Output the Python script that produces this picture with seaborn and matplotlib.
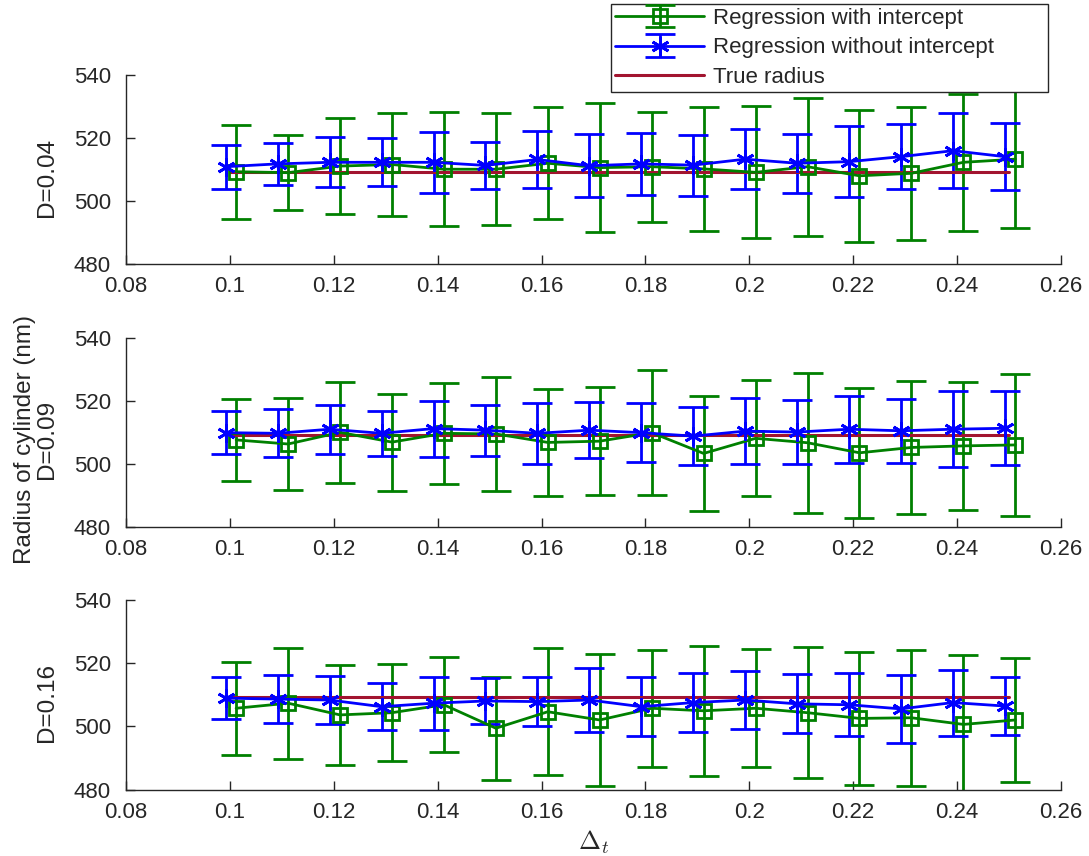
import numpy as np
import matplotlib
matplotlib.use('Agg')
import matplotlib.pyplot as plt
import seaborn as sns
from matplotlib.ticker import FuncFormatter

# time step values (x axis)
dt = [0.10, 0.11, 0.12, 0.13, 0.14, 0.15, 0.16, 0.17,
      0.18, 0.19, 0.20, 0.21, 0.22, 0.23, 0.24, 0.25]
true_radius = 509.3
d_labels = ['D=0.04', 'D=0.09', 'D=0.16']

# D=0.04
with_mean_004 = [509.3, 509.0, 511.1, 511.6, 510.1, 510.1, 512.0, 510.6,
                 510.9, 510.2, 509.1, 510.9, 508.0, 508.8, 512.3, 513.3]
with_err_004 = [14.9, 11.9, 15.4, 16.3, 18.2, 17.8, 17.8, 20.5,
                17.5, 19.8, 21.0, 22.0, 21.1, 21.1, 21.8, 21.8]
without_mean_004 = [510.9, 511.8, 512.3, 512.3, 512.3, 511.3, 513.2, 511.2,
                    511.8, 511.4, 513.3, 512.0, 512.5, 514.1, 516.0, 514.1]
without_err_004 = [7.0, 6.8, 8.0, 7.7, 9.8, 7.4, 9.2, 10.0,
                   9.9, 9.7, 9.5, 9.4, 11.4, 10.4, 11.9, 10.7]

# D=0.09
with_mean_009 = [507.6, 506.3, 510.0, 506.9, 509.7, 509.5, 506.8, 507.2,
                 509.9, 503.3, 508.1, 506.7, 503.5, 505.2, 505.7, 506.0]
with_err_009 = [13.0, 14.6, 16.0, 15.4, 16.0, 18.0, 17.0, 17.1,
                19.8, 18.2, 18.4, 22.2, 20.6, 21.1, 20.4, 22.6]
without_mean_009 = [509.9, 509.7, 511.0, 509.7, 511.2, 510.7, 509.7, 510.7,
                    509.9, 508.8, 510.4, 510.1, 511.0, 510.5, 511.0, 511.3]
without_err_009 = [6.8, 7.6, 7.8, 7.2, 8.9, 8.1, 9.7, 8.8,
                   9.3, 9.3, 10.5, 10.2, 10.6, 10.2, 12.0, 11.7]

# D=0.16
with_mean_016 = [505.7, 507.3, 503.6, 504.3, 506.8, 499.4, 504.6, 502.0,
                 505.7, 504.9, 505.7, 504.3, 502.5, 502.7, 500.6, 502.0]
with_err_016 = [14.7, 17.5, 15.7, 15.4, 15.0, 16.2, 20.1, 20.7,
                18.5, 20.5, 18.7, 20.6, 20.9, 21.5, 21.8, 19.7]
without_mean_016 = [508.9, 508.6, 508.3, 506.2, 507.3, 508.0, 507.8, 508.3,
                    506.2, 507.5, 508.3, 507.1, 506.8, 505.5, 507.5, 506.4]
without_err_016 = [6.7, 7.5, 7.7, 7.5, 8.4, 7.4, 7.7, 10.1,
                   9.4, 9.4, 9.3, 9.3, 10.0, 10.7, 10.4, 9.2]

panels = [
    (with_mean_004, with_err_004, without_mean_004, without_err_004),
    (with_mean_009, with_err_009, without_mean_009, without_err_009),
    (with_mean_016, with_err_016, without_mean_016, without_err_016),
]

sns.set_style('ticks')
dark = '#262626'
plt.rcParams.update({
    'font.family': ['Liberation Sans', 'DejaVu Sans'],
    'mathtext.fontset': 'cm',
    'axes.edgecolor': dark,
    'axes.labelcolor': dark,
    'xtick.color': dark,
    'ytick.color': dark,
    'xtick.direction': 'in',
    'ytick.direction': 'in',
    'axes.linewidth': 1.0,
})

green = '#008000'
blue = '#0000ff'
red = '#a2142f'

fig = plt.figure(figsize=(10.89, 8.56), dpi=100)
rects = [
    [0.1157, 0.6919, 0.8586, 0.2201],
    [0.1157, 0.3847, 0.8586, 0.2204],
    [0.1157, 0.0775, 0.8586, 0.2220],
]
x = np.array(dt)
fmt = FuncFormatter(lambda v, p: '%g' % round(v, 4))

axes = []
for i, rect in enumerate(rects):
    ax = fig.add_axes(rect)
    wm, we, om, oe = panels[i]
    ax.errorbar(x + 0.0012, wm, yerr=we, color=green, marker='s', ms=10,
                mfc='none', mew=2, lw=2, elinewidth=2, capsize=11,
                capthick=2, label='Regression with intercept')
    ax.errorbar(x - 0.0008, om, yerr=oe, color=blue, marker=(6, 2, 0), ms=13,
                mew=2, lw=2, elinewidth=2, capsize=11, capthick=2,
                label='Regression without intercept')
    sns.lineplot(x=x, y=np.full(len(x), true_radius), ax=ax, color=red, lw=2.2,
                 label='True radius', legend=False)
    ax.set_xlim(0.08, 0.26)
    ax.set_ylim(480, 540)
    ax.set_xticks(np.arange(0.08, 0.2601, 0.02))
    ax.set_yticks([480, 500, 520, 540])
    ax.xaxis.set_major_formatter(fmt)
    ax.tick_params(labelsize=16, length=6.5, width=1.0)
    ax.tick_params(axis='y', pad=11)
    ax.tick_params(axis='x', pad=9)
    sns.despine(ax=ax)
    if i == 1:
        ax.set_ylabel('Radius of cylinder (nm)\n' + d_labels[i], fontsize=17.5,
                      linespacing=1.0)
    else:
        ax.set_ylabel(d_labels[i], fontsize=17.5)
    ax.yaxis.set_label_coords(-0.073, 0.46)
    axes.append(ax)

axes[2].set_xlabel(r'$\Delta_t$', fontsize=19, labelpad=4)

handles, labels = axes[0].get_legend_handles_labels()
order = [labels.index('Regression with intercept'),
         labels.index('Regression without intercept'),
         labels.index('True radius')]
leg = fig.legend([handles[k] for k in order], [labels[k] for k in order],
                 loc='lower left',
                 bbox_to_anchor=(611 / 1089, 1 - 92 / 856, 437 / 1089, 0.1),
                 mode='expand',
                 fontsize=16, frameon=True, fancybox=False, framealpha=1,
                 edgecolor=dark, handlelength=4, handletextpad=0.4,
                 labelspacing=0.37, borderpad=0.2, borderaxespad=0)
leg.get_frame().set_linewidth(1.0)

fig.savefig('out.png', dpi=100)
